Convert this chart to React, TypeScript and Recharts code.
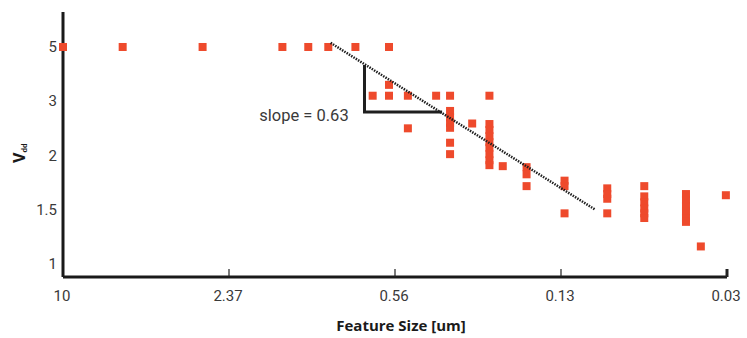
import React from 'react';
import { ScatterChart, Scatter, XAxis, YAxis } from 'recharts';

// Tick labels (axes are drawn with equally spaced labelled ticks)
const xTickLabels = [10, 2.37, 0.56, 0.13, 0.03];
const yTickLabels = [1, 1.5, 2, 3, 5];

// Feature size [um] and Vdd of every process node point
const featureSize = [
  10, 5.96, 2.98, 1.49, 1.19, 1.0, 0.79, 0.59,
  0.59,
  0.68, 0.59, 0.5, 0.39, 0.345, 0.244,
  0.5,
  0.345, 0.345, 0.345, 0.345,
  0.345, 0.345,
  0.284,
  0.244, 0.244, 0.244, 0.244, 0.244, 0.244, 0.244, 0.244,
  0.217,
  0.176, 0.176,
  0.176,
  0.126, 0.126,
  0.126,
  0.0864, 0.0864, 0.0864,
  0.0864,
  0.0623,
  0.0623, 0.0623, 0.0623, 0.0623, 0.0623,
  0.0431, 0.0431, 0.0431, 0.0431, 0.0431, 0.0431,
  0.0378,
  0.0303,
];
const vdd = [
  5, 5, 5, 5, 5, 5, 5, 5,
  3.5,
  3.16, 3.16, 3.16, 3.16, 3.16, 3.16,
  2.45,
  2.79, 2.66, 2.55, 2.46,
  2.2, 2.02,
  2.54,
  2.53, 2.42, 2.31, 2.21, 2.12, 2.02, 1.95, 1.9,
  1.89,
  1.88, 1.81,
  1.7,
  1.75, 1.7,
  1.46,
  1.68, 1.63, 1.59,
  1.46,
  1.7,
  1.61, 1.56, 1.51, 1.46, 1.41,
  1.63, 1.58, 1.53, 1.48, 1.41, 1.37,
  1.14,
  1.62,
];

// Trend line and slope triangle (feature size, Vdd)
const trendX = [0.98, 0.096];
const trendY = [5.2, 1.5];
const triangleX = [0.73, 0.73, 0.37];
const triangleY = [4.22, 2.77, 2.77];
const slopeLabel = 'slope = 0.63';
const slopeLabelX = [1.235];
const slopeLabelY = [2.7];

// piecewise-logarithmic mapping of a value onto the labelled tick index
function toIndex(v: number, ticks: number[]): number {
  const lv = Math.log(v);
  const lt = ticks.map((t) => Math.log(t));
  const n = lt.length;
  const dir = lt[n - 1] > lt[0] ? 1 : -1;
  let k = 0;
  for (k = 0; k < n - 2; k++) {
    if (dir * (lv - lt[k + 1]) < 0) break;
  }
  return k + (lv - lt[k]) / (lt[k + 1] - lt[k]);
}

const pts = (xs: number[], ys: number[]) =>
  xs.map((x, i) => ({ x: toIndex(x, xTickLabels), y: toIndex(ys[i], yTickLabels) }));

const points = pts(featureSize, vdd);
const trend = pts(trendX, trendY);
const triangle = pts(triangleX, triangleY);
const labelPt = pts(slopeLabelX, slopeLabelY);

const RED = '#ee4a2c';
const FONT = 'Roboto, "Open Sans", sans-serif';

const Square = (p: any) => (
  <rect x={p.cx - 4} y={p.cy - 4} width={8} height={8} fill={RED} />
);

const Empty = () => <g />;

const SlopeText = (p: any) => (
  <text
    x={p.cx}
    y={p.cy}
    dy="0.35em"
    textAnchor="middle"
    fontFamily={FONT}
    fontSize={16.5}
    fill="#3a3a3a"
  >
    {slopeLabel}
  </text>
);

const XTick = (p: any) => {
  const { x, y, payload } = p;
  const v = payload.value;
  const last = v === xTickLabels.length - 1;
  return (
    <g>
      {v !== 0 && (
        <line x1={x} x2={x} y1={y} y2={y - 8} stroke="#222" strokeWidth={last ? 3 : 1.2} />
      )}
      <text x={x - 1} y={y + 24} textAnchor="middle" fontFamily={FONT} fontSize={15} fill="#3a3a3a">
        {String(xTickLabels[v])}
      </text>
    </g>
  );
};

const YTick = (p: any) => {
  const { x, y, payload } = p;
  return (
    <text x={x} y={y} dy="0.35em" textAnchor="end" fontFamily={FONT} fontSize={15} fill="#3a3a3a">
      {String(yTickLabels[payload.value])}
    </text>
  );
};

const YLabel = () => (
  <text transform="translate(25,163) rotate(-90)" fontFamily={FONT} fontWeight="bold" fill="#1a1a1a">
    <tspan fontSize={16}>V</tspan>
    <tspan fontSize={8} dy={2}>dd</tspan>
  </text>
);

const XLabel = () => (
  <text x={401} y={331} textAnchor="middle" fontFamily='"Open Sans", sans-serif' fontWeight="bold" fontSize={15} fill="#1a1a1a">
    Feature Size [um]
  </text>
);

export default function App() {
  return (
    <div style={{ position: 'absolute', left: 0, top: 0, width: 747, height: 338, background: '#fff' }}>
      <ScatterChart width={747} height={338} margin={{ top: 12, right: 20, bottom: 60, left: 62 }}>
        <XAxis
          type="number"
          dataKey="x"
          domain={[0, 4]}
          ticks={[0, 1, 2, 3, 4]}
          height={1}
          tickSize={0}
          tickMargin={0}
          tickLine={false}
          tick={<XTick />}
          axisLine={{ stroke: '#1a1a1a', strokeWidth: 3 }}
          label={{ content: <XLabel /> }}
        />
        <YAxis
          type="number"
          dataKey="y"
          domain={[-0.24, 4.645]}
          ticks={[0, 1, 2, 3, 4]}
          width={1}
          tickSize={0}
          tickMargin={6}
          tickLine={false}
          tick={<YTick />}
          axisLine={{ stroke: '#1a1a1a', strokeWidth: 3 }}
          label={{ content: <YLabel /> }}
        />
        <Scatter data={points} shape={<Square />} isAnimationActive={false} />
        <Scatter
          data={triangle}
          shape={<Empty />}
          line={{ stroke: '#1f1f1f', strokeWidth: 3 }}
          isAnimationActive={false}
        />
        <Scatter
          data={trend}
          shape={<Empty />}
          line={{ stroke: '#1f1f1f', strokeWidth: 2.5, strokeDasharray: '1.5 1.2' }}
          isAnimationActive={false}
        />
        <Scatter data={labelPt} shape={<SlopeText />} isAnimationActive={false} />
      </ScatterChart>
    </div>
  );
}
